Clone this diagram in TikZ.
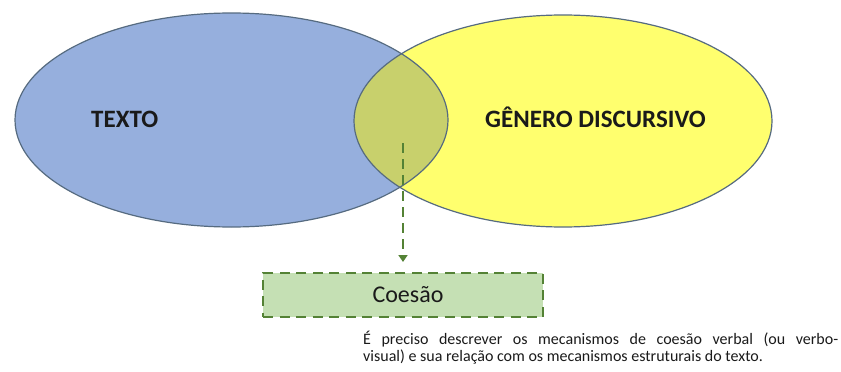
\documentclass[tikz,border=0pt]{standalone}
\usepackage{fontspec}
\setmainfont{Carlito}
\usetikzlibrary{arrows.meta}
\definecolor{blueFill}{HTML}{96AFDD}
\definecolor{yellowFill}{HTML}{FFFF6E}
\definecolor{lensFill}{HTML}{C8D06C}
\definecolor{ellLine}{HTML}{566B80}
\definecolor{boxFill}{HTML}{C5E0B4}
\definecolor{boxLine}{HTML}{548235}
\definecolor{txt}{HTML}{1A1A1A}
\tikzset{
  bigtext/.style={anchor=base west, inner sep=0pt, text=txt, font=\fontsize{25}{30}\selectfont\bfseries},
  cbox/.style={draw=boxLine, fill=boxFill, line width=2.5pt, dash pattern=on 10pt off 6.5pt,
    minimum width=280pt, minimum height=44pt, inner sep=0pt, text=txt, font=\fontsize{24}{28}\selectfont},
  arrowline/.style={draw=boxLine, line width=2.8pt, dash pattern=on 10pt off 6pt,
    -{Triangle[length=7pt,width=9pt]}},
  paratext/.style={anchor=base west, inner sep=0pt, text=txt, font=\fontsize{16}{18}\selectfont}
}
\begin{document}
\begin{tikzpicture}[x=1pt,y=-1pt]
\useasboundingbox (0,0) rectangle (841,372);
\fill[white] (0,0) rectangle (841,372);
% ellipses
\fill[blueFill] (231.5,120) ellipse [x radius=216.5pt, y radius=107pt];
\fill[yellowFill] (563,121) ellipse [x radius=209pt, y radius=106pt];
\begin{scope}
  \clip (231.5,120) ellipse [x radius=216.5pt, y radius=107pt];
  \fill[lensFill] (563,121) ellipse [x radius=209pt, y radius=106pt];
\end{scope}
\draw[ellLine, line width=1.2pt] (231.5,120) ellipse [x radius=216.5pt, y radius=107pt];
\draw[ellLine, line width=1.2pt] (563,121) ellipse [x radius=209pt, y radius=106pt];
% labels
\node[bigtext] (texto) at (91,127) {TEXTO};
\node[bigtext] (genero) at (485,127) {GÊNERO DISCURSIVO};
% box and arrow
\node[cbox] (box) at (403,295) {\hspace*{10pt}Coesão};
\coordinate (from) at (403,143);
\coordinate (tip) at (403,262);
\draw[arrowline] (from) -- (tip);
% paragraph
\node[paratext] (para1) at (363,344) {\makebox[475pt][s]{É preciso descrever os mecanismos de coesão verbal (ou verbo-}};
\node[paratext] (para2) at (363,361) {visual) e sua relação com os mecanismos estruturais do texto.};
\end{tikzpicture}
\end{document}
